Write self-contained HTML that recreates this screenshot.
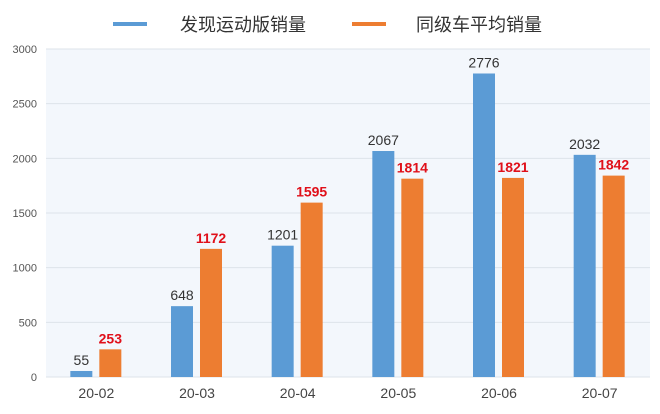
<!DOCTYPE html>
<html><head><meta charset="utf-8"><style>
html,body{margin:0;padding:0;background:#fff;}
svg{display:block;font-family:"Liberation Sans","Noto Sans CJK SC",sans-serif;}
</style></head><body>
<svg id="chart" width="660" height="414">
  <rect x="46" y="49" width="604" height="328" fill="#f3f7fc"/>
  <g id="grid"></g>
  <g id="bars"></g>
  <g>
    <rect x="113" y="22" width="34" height="4" fill="#5b9bd5"/>
    <text x="180" y="31" font-size="18" fill="#333">发现运动版销量</text>
    <rect x="352" y="22" width="34" height="4" fill="#ed7d31"/>
    <text x="416" y="31" font-size="18" fill="#333">同级车平均销量</text>
  </g>
</svg>
<script>
const categories = ["20-02","20-03","20-04","20-05","20-06","20-07"];
const sportValues = [55,648,1201,2067,2776,2032];
const avgValues = [253,1172,1595,1814,1821,1842];
const yTicks = [0,500,1000,1500,2000,2500,3000];
const NS="http://www.w3.org/2000/svg";
const x0=46,x1=650,yBase=377,yTop=49,yMax=3000;
const band=(x1-x0)/categories.length;
function y(v){return yBase-(v/yMax)*(yBase-yTop);}
function cx(i){return x0+band*(i+0.5);}
function mk(tag,attrs,parent){const e=document.createElementNS(NS,tag);for(const k in attrs)e.setAttribute(k,attrs[k]);parent.appendChild(e);return e;}
const grid=document.getElementById('grid'),bars=document.getElementById('bars');
yTicks.forEach(t=>{
  const l=mk('line',{x1:x0,x2:x1,y1:y(t),y2:y(t),stroke:'#dde3ea','stroke-width':1},grid);
  
  
  const tx=mk('text',{x:37,y:y(t)+4,'text-anchor':'end','font-size':11,fill:'#555'},grid);
  tx.textContent=t;
  
  
});
categories.forEach((c,i)=>{
  const c0=cx(i);
  const b=mk('rect',{x:c0-26,y:y(sportValues[i]),width:22,height:yBase-y(sportValues[i]),fill:'#5b9bd5'},bars);
  
  
  const o=mk('rect',{x:c0+3,y:y(avgValues[i]),width:22,height:yBase-y(avgValues[i]),fill:'#ed7d31'},bars);
  
  
  const lb=mk('text',{x:c0-15,y:y(sportValues[i])-6,'text-anchor':'middle','font-size':14,fill:'#333'},bars);
  lb.textContent=sportValues[i];
  
  
  const lo=mk('text',{x:c0+14,y:y(avgValues[i])-6,'text-anchor':'middle','font-size':14,'font-weight':'bold',fill:'#e0101a'},bars);
  lo.textContent=avgValues[i];
  
  
  const xl=mk('text',{x:c0,y:398,'text-anchor':'middle','font-size':14,fill:'#444'},bars);
  xl.textContent=c;
  
  
});
</script>
</body></html>
